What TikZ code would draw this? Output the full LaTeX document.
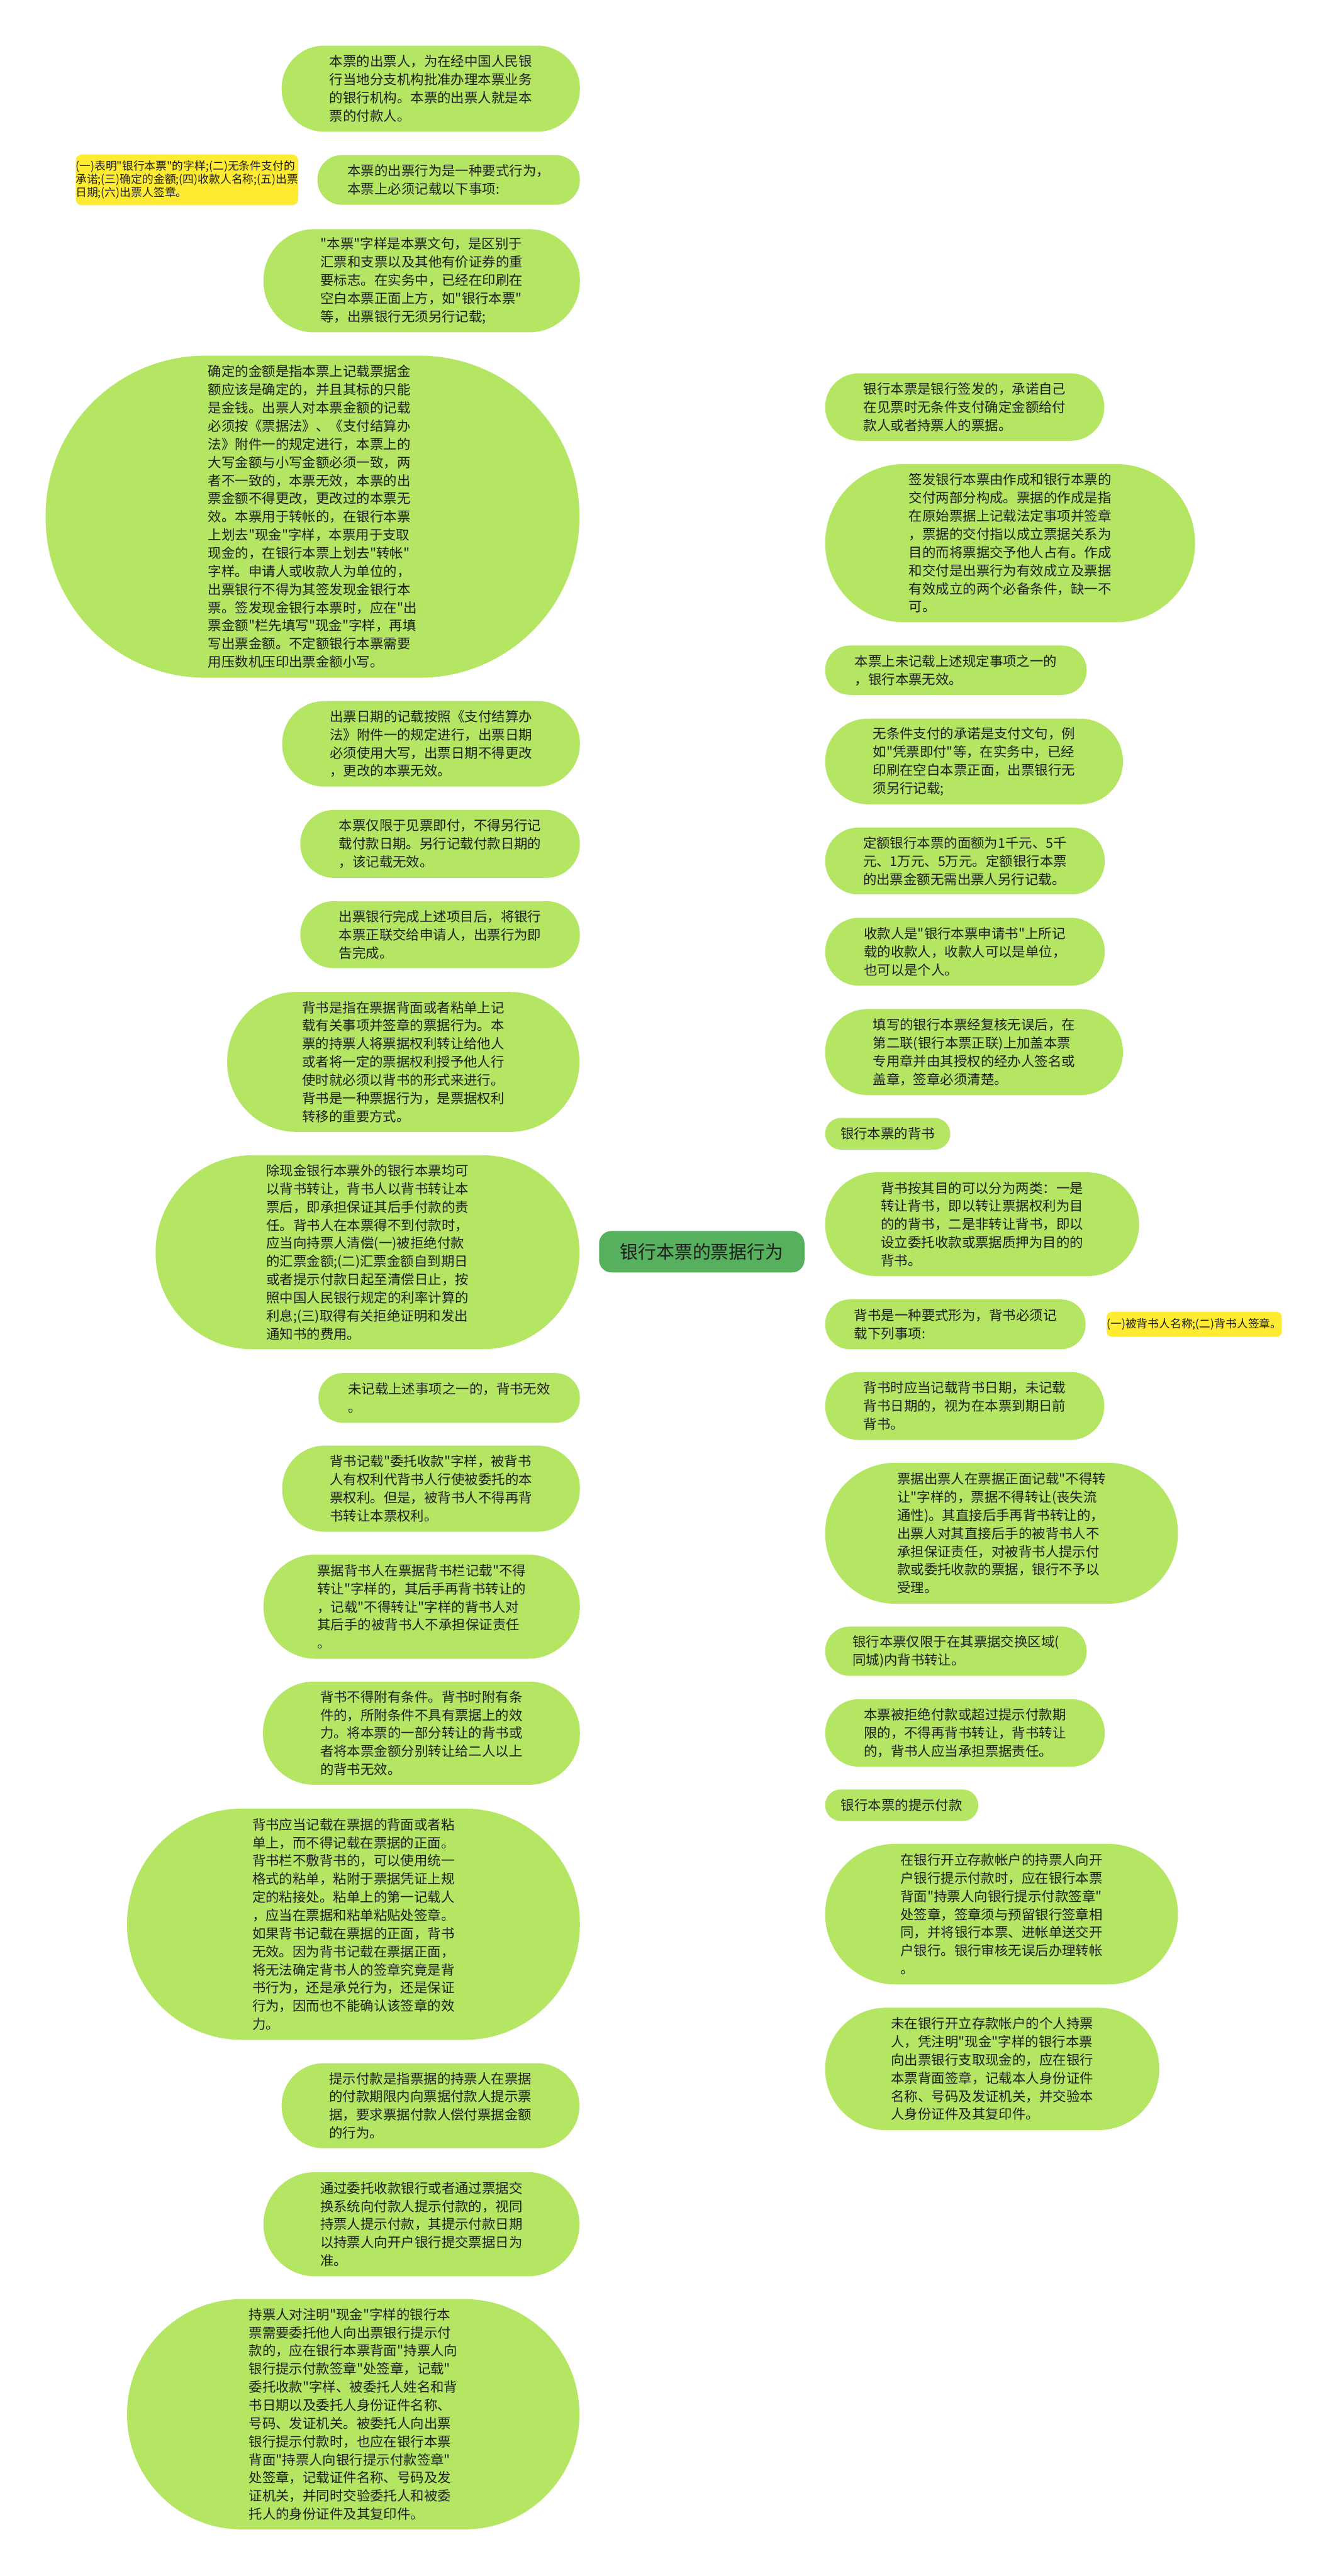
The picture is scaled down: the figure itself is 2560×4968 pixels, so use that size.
\documentclass[tikz,border=0pt]{standalone}
\usepackage{fontspec}
\newfontfamily\cjk{Noto Sans CJK SC}
\usetikzlibrary{calc}
\definecolor{leafgreen}{RGB}{180,230,100}
\definecolor{rootgreen}{RGB}{86,176,94}
\definecolor{linegreen}{RGB}{76,168,84}
\definecolor{noteyellow}{RGB}{255,236,50}
\definecolor{txt}{RGB}{30,30,30}
\pgfdeclarelayer{bg}
\pgfsetlayers{bg,main}
\tikzset{
  leaf/.style={fill=leafgreen, text=txt, inner sep=0pt, align=left, font=\cjk\fontsize{6.5pt}{8.75pt}\selectfont},
  note/.style={fill=noteyellow, text=txt, inner sep=0pt, align=left, font=\cjk\fontsize{5.4pt}{6.4pt}\selectfont},
  rootbox/.style={fill=rootgreen, text=txt, inner sep=0pt, font=\cjk\fontsize{8.75pt}{10pt}\selectfont},
  conn/.style={draw=linegreen, line width=0.8pt},
}
\newcommand\leafnode[7]{\node[leaf, minimum width=#4pt, minimum height=#5pt, rounded corners=#6pt] (#1) at (#2,#3) {#7};}
\newcommand\connL[1]{\draw[conn] let \p1=(root.center), \p2=(#1.east) in (\p1) .. controls (\x1,\y2) and ({0.5*\x1+0.5*\x2},\y2) .. (\p2);}
\newcommand\connR[1]{\draw[conn] let \p1=(root.center), \p2=(#1.west) in (\p1) .. controls (\x1,\y2) and ({0.5*\x1+0.5*\x2},\y2) .. (\p2);}
\begin{document}
\begin{tikzpicture}[x=0.25pt, y=-0.25pt]
\fill[white] (0,0) rectangle (2560,4968);
\useasboundingbox (0,0) rectangle (2560,4968);

% root
\node[rootbox, minimum width=99pt, minimum height=20pt, rounded corners=6pt] (root) at (1353,2414) {银行本票的票据行为};

% left side
\leafnode{L1}{830.5}{171}{143.75}{41.5}{20.5}{本票的出票人，为在经中国人民银\\行当地分支机构批准办理本票业务\\的银行机构。本票的出票人就是本\\票的付款人。}
\node[note, minimum width=106.75pt, minimum height=24.5pt, rounded corners=3pt] (Y1) at (360.5,347) {(一)表明"银行本票"的字样;(二)无条件支付的\\承诺;(三)确定的金额;(四)收款人名称;(五)出票\\日期;(六)出票人签章。};
\leafnode{L2}{865}{347}{126.5}{24}{11.8}{本票的出票行为是一种要式行为，\\本票上必须记载以下事项:}
\leafnode{L3}{813}{541.5}{152.5}{49.75}{24.5}{"本票"字样是本票文句，是区别于\\汇票和支票以及其他有价证券的重\\要标志。在实务中，已经在印刷在\\空白本票正面上方，如"银行本票"\\等，出票银行无须另行记载;}
\leafnode{L4}{602.5}{996.5}{257.25}{155.25}{77}{确定的金额是指本票上记载票据金\\额应该是确定的，并且其标的只能\\是金钱。出票人对本票金额的记载\\必须按《票据法》、《支付结算办\\法》附件一的规定进行，本票上的\\大写金额与小写金额必须一致，两\\者不一致的，本票无效，本票的出\\票金额不得更改，更改过的本票无\\效。本票用于转帐的，在银行本票\\上划去"现金"字样，本票用于支取\\现金的，在银行本票上划去"转帐"\\字样。申请人或收款人为单位的，\\出票银行不得为其签发现金银行本\\票。签发现金银行本票时，应在"出\\票金额"栏先填写"现金"字样，再填\\写出票金额。不定额银行本票需要\\用压数机压印出票金额小写。}
\leafnode{L5}{831}{1434.5}{143.5}{41.25}{20.4}{出票日期的记载按照《支付结算办\\法》附件一的规定进行，出票日期\\必须使用大写，出票日期不得更改\\，更改的本票无效。}
\leafnode{L6}{848.5}{1627.5}{134.75}{32.75}{16.2}{本票仅限于见票即付，不得另行记\\载付款日期。另行记载付款日期的\\，该记载无效。}
\leafnode{L7}{848.5}{1802.5}{134.75}{32.25}{16}{出票银行完成上述项目后，将银行\\本票正联交给申请人，出票行为即\\告完成。}
\leafnode{L8}{777.5}{2048}{169.75}{67.5}{33.5}{背书是指在票据背面或者粘单上记\\载有关事项并签章的票据行为。本\\票的持票人将票据权利转让给他人\\或者将一定的票据权利授予他人行\\使时就必须以背书的形式来进行。\\背书是一种票据行为，是票据权利\\转移的重要方式。}
\leafnode{L9}{708.5}{2415}{204.25}{93.5}{46.5}{除现金银行本票外的银行本票均可\\以背书转让，背书人以背书转让本\\票后，即承担保证其后手付款的责\\任。背书人在本票得不到付款时，\\应当向持票人清偿(一)被拒绝付款\\的汇票金额;(二)汇票金额自到期日\\或者提示付款日起至清偿日止，按\\照中国人民银行规定的利率计算的\\利息;(三)取得有关拒绝证明和发出\\通知书的费用。}
\leafnode{L10}{866}{2696}{126}{24}{11.8}{未记载上述事项之一的，背书无效\\。}
\leafnode{L11}{831}{2871}{143.5}{41.5}{20.5}{背书记载"委托收款"字样，被背书\\人有权利代背书人行使被委托的本\\票权利。但是，被背书人不得再背\\书转让本票权利。}
\leafnode{L12}{813}{3098.5}{152.5}{50.25}{25}{票据背书人在票据背书栏记载"不得\\转让"字样的，其后手再背书转让的\\，记载"不得转让"字样的背书人对\\其后手的被背书人不承担保证责任\\。}
\leafnode{L13}{812.5}{3342.5}{152.75}{49.75}{24.6}{背书不得附有条件。背书时附有条\\件的，所附条件不具有票据上的效\\力。将本票的一部分转让的背书或\\者将本票金额分别转让给二人以上\\的背书无效。}
\leafnode{L14}{681.5}{3711}{218.25}{111.5}{55.5}{背书应当记载在票据的背面或者粘\\单上，而不得记载在票据的正面。\\背书栏不敷背书的，可以使用统一\\格式的粘单，粘附于票据凭证上规\\定的粘接处。粘单上的第一记载人\\，应当在票据和粘单粘贴处签章。\\如果背书记载在票据的正面，背书\\无效。因为背书记载在票据正面，\\将无法确定背书人的签章究竟是背\\书行为，还是承兑行为，还是保证\\行为，因而也不能确认该签章的效\\力。}
\leafnode{L15}{830}{4061}{143.5}{41}{20.3}{提示付款是指票据的持票人在票据\\的付款期限内向票据付款人提示票\\据，要求票据付款人偿付票据金额\\的行为。}
\leafnode{L16}{812.5}{4289.5}{152.25}{50.25}{25}{通过委托收款银行或者通过票据交\\换系统向付款人提示付款的，视同\\持票人提示付款，其提示付款日期\\以持票人向开户银行提交票据日为\\准。}
\leafnode{L17}{681}{4656}{218}{111}{55.3}{持票人对注明"现金"字样的银行本\\票需要委托他人向出票银行提示付\\款的，应在银行本票背面"持票人向\\银行提示付款签章"处签章，记载"\\委托收款"字样、被委托人姓名和背\\书日期以及委托人身份证件名称、\\号码、发证机关。被委托人向出票\\银行提示付款时，也应在银行本票\\背面"持票人向银行提示付款签章"\\处签章，记载证件名称、号码及发\\证机关，并同时交验委托人和被委\\托人的身份证件及其复印件。}

% right side
\leafnode{R1}{1860}{785}{134.5}{32.5}{16.1}{银行本票是银行签发的，承诺自己\\在见票时无条件支付确定金额给付\\款人或者持票人的票据。}
\leafnode{R2}{1947.5}{1047.5}{178.25}{76.25}{38}{签发银行本票由作成和银行本票的\\交付两部分构成。票据的作成是指\\在原始票据上记载法定事项并签章\\，票据的交付指以成立票据关系为\\目的而将票据交予他人占有。作成\\和交付是出票行为有效成立及票据\\有效成立的两个必备条件，缺一不\\可。}
\leafnode{R3}{1843}{1292.5}{126}{23.75}{11.7}{本票上未记载上述规定事项之一的\\，银行本票无效。}
\leafnode{R4}{1878}{1468.5}{143.5}{41.25}{20.4}{无条件支付的承诺是支付文句，例\\如"凭票即付"等，在实务中，已经\\印刷在空白本票正面，出票银行无\\须另行记载;}
\leafnode{R5}{1860.5}{1660.5}{134.75}{32.25}{16}{定额银行本票的面额为1千元、5千\\元、1万元、5万元。定额银行本票\\的出票金额无需出票人另行记载。}
\leafnode{R6}{1860.5}{1835.5}{134.75}{32.75}{16.2}{收款人是"银行本票申请书"上所记\\载的收款人，收款人可以是单位，\\也可以是个人。}
\leafnode{R7}{1878}{2029}{143.5}{41.5}{20.5}{填写的银行本票经复核无误后，在\\第二联(银行本票正联)上加盖本票\\专用章并由其授权的经办人签名或\\盖章，签章必须清楚。}
\leafnode{R8}{1711.5}{2186.5}{60.25}{15.25}{7.5}{银行本票的背书}
\leafnode{R9}{1893.5}{2361}{151.25}{50}{24.8}{背书按其目的可以分为两类：一是\\转让背书，即以转让票据权利为目\\的的背书，二是非转让背书，即以\\设立委托收款或票据质押为目的的\\背书。}
\leafnode{R10}{1842}{2554}{125.5}{24}{11.8}{背书是一种要式形为，背书必须记\\载下列事项:}
\node[note, minimum width=84.25pt, minimum height=12pt, rounded corners=2.5pt] (Y2) at (2302.5,2554) {(一)被背书人名称;(二)背书人签章。};
\leafnode{R11}{1860}{2711.5}{134.5}{32.75}{16.2}{背书时应当记载背书日期，未记载\\背书日期的，视为在本票到期日前\\背书。}
\leafnode{R12}{1931}{2957}{170}{68}{33.8}{票据出票人在票据正面记载"不得转\\让"字样的，票据不得转让(丧失流\\通性)。其直接后手再背书转让的，\\出票人对其直接后手的被背书人不\\承担保证责任，对被背书人提示付\\款或委托收款的票据，银行不予以\\受理。}
\leafnode{R13}{1843}{3184.5}{126}{23.75}{11.7}{银行本票仅限于在其票据交换区域(\\同城)内背书转让。}
\leafnode{R14}{1860.5}{3342}{134.75}{32.5}{16.1}{本票被拒绝付款或超过提示付款期\\限的，不得再背书转让，背书转让\\的，背书人应当承担票据责任。}
\leafnode{R15}{1738.5}{3481.5}{73.75}{15.25}{7.5}{银行本票的提示付款}
\leafnode{R16}{1931}{3691.5}{170}{67.75}{33.7}{在银行开立存款帐户的持票人向开\\户银行提示付款时，应在银行本票\\背面"持票人向银行提示付款签章"\\处签章，签章须与预留银行签章相\\同，并将银行本票、进帐单送交开\\户银行。银行审核无误后办理转帐\\。}
\leafnode{R17}{1913}{3990}{161}{59}{29.3}{未在银行开立存款帐户的个人持票\\人，凭注明"现金"字样的银行本票\\向出票银行支取现金的，应在银行\\本票背面签章，记载本人身份证件\\名称、号码及发证机关，并交验本\\人身份证件及其复印件。}

% connectors
\begin{pgfonlayer}{bg}
\connL{L1}\connL{L2}\connL{L3}\connL{L4}\connL{L5}\connL{L6}\connL{L7}\connL{L8}\connL{L9}
\connL{L10}\connL{L11}\connL{L12}\connL{L13}\connL{L14}\connL{L15}\connL{L16}\connL{L17}
\connR{R1}\connR{R2}\connR{R3}\connR{R4}\connR{R5}\connR{R6}\connR{R7}\connR{R8}\connR{R9}
\connR{R10}\connR{R11}\connR{R12}\connR{R13}\connR{R14}\connR{R15}\connR{R16}\connR{R17}
\draw[conn] (L2.west) -- (Y1.east);
\draw[conn] (R10.east) -- (Y2.west);
\end{pgfonlayer}
\end{tikzpicture}
\end{document}
